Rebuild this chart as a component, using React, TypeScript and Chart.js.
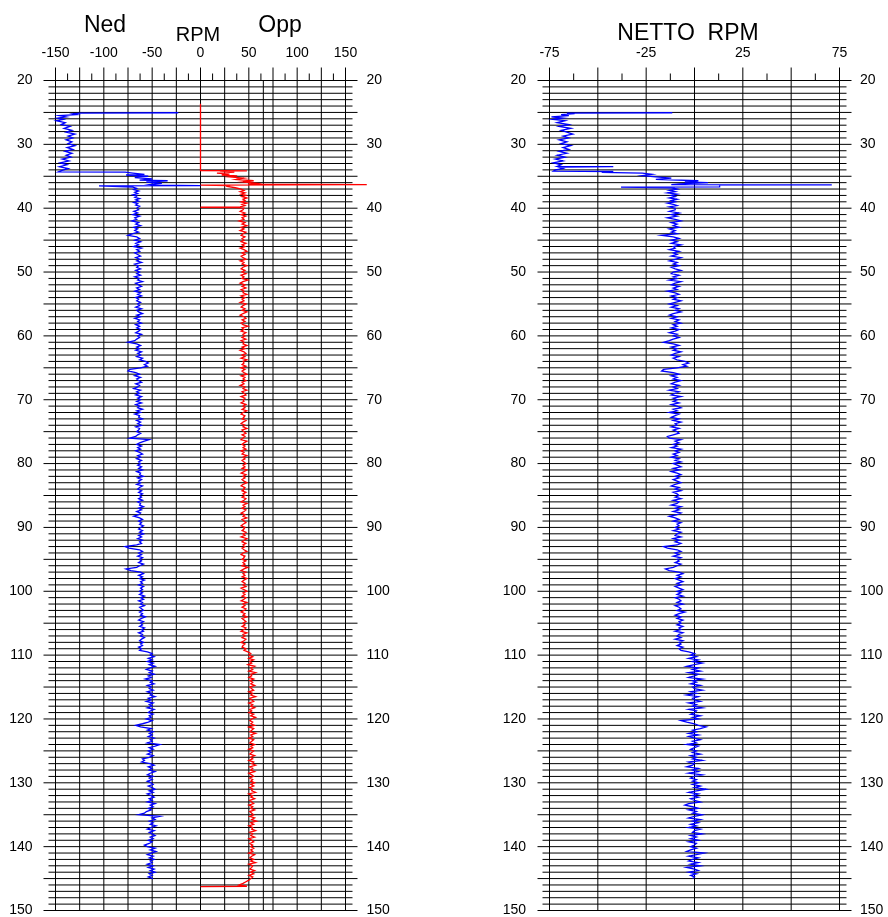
import React, { useEffect, useRef } from 'react';
import { Chart, registerables } from 'chart.js';

Chart.register(...registerables);

const FONT = "'Liberation Sans', Arial, Helvetica, sans-serif";

// ---------- axes ----------
const DEPTH_MIN = 20;
const DEPTH_MAX = 150;
const depthTickLabels = [20, 30, 40, 50, 60, 70, 80, 90, 100, 110, 120, 130, 140, 150];

const leftLabelX = [-150, -100, -50, 0, 50, 100, 150];
const leftTallX = [-150, -125, -100, -75, -50, -25, 0, 25, 50, 75, 100, 125, 150];
const leftExtraX = [65];
const leftMinorX = [-137.5, -112.5, -87.5, -62.5, -37.5, -12.5, 12.5, 37.5, 62.5, 87.5, 112.5, 137.5];

const rightLabelX = [-75, -25, 25, 75];
const rightTallX = [-75, -50, -25, 0, 25, 50, 75];
const rightMinorX = [-62.5, -37.5, -12.5, 12.5, 37.5, 62.5];

// ---------- data: top (irregular) section ----------
const nedTopDepth = [
  25.05, 25.1, 25.2, 25.35, 25.5, 25.7, 25.9, 26.1, 26.3, 26.6,
  26.9, 27.2, 27.5, 27.8, 28.1, 28.4, 28.7, 29.0, 29.3, 29.6,
  29.9, 30.2, 30.5, 30.8, 31.1, 31.4, 31.7, 32.0, 32.3, 32.6,
  32.9, 33.2, 33.5, 33.8, 34.1, 34.3, 34.35, 34.5, 34.7, 34.8,
  35.0, 35.2, 35.4, 35.6, 35.7, 35.9, 36.1, 36.3, 36.4, 36.45,
  36.5, 36.7, 36.9, 37.1, 37.3, 37.5, 37.7, 37.9, 38.1, 38.3,
  38.5, 38.7, 38.9, 39.1, 39.3, 39.5, 39.7, 40.0,
];
const nedTopRpm = [
  -23, -124, -132, -128, -146, -139, -148, -142, -149, -140,
  -144, -135, -141, -133, -139, -130, -137, -132, -139, -133,
  -137, -130, -138, -132, -140, -133, -139, -134, -143, -136,
  -145, -138, -146, -137, -144, -147, -78, -70, -58, -77,
  -54, -68, -50, -63, -34, -56, -40, -52, -45, 0,
  -105, -70, -66, -69, -64, -68, -65, -70, -66, -68,
  -63, -67, -64, -69, -65, -67, -63, -66,
];

const oppTopDepth = [
  23.65, 34.1, 34.15, 34.2, 34.35, 34.5, 34.65, 34.8, 34.95, 35.1,
  35.3, 35.5, 35.7, 35.9, 36.1, 36.25, 36.3, 36.38, 36.45, 36.6,
  36.8, 37.0, 37.2, 37.4, 37.6, 37.8, 38.0, 38.2, 38.4, 38.6,
  38.8, 39.0, 39.2, 39.4, 39.6, 39.8, 39.85, 39.9, 40.0,
];
const oppTopRpm = [
  0, 0, 48, 20, 35, 17, 30, 22, 38, 30,
  45, 37, 55, 44, 58, 50, 172, 0, 30, 28,
  36, 42, 45, 41, 46, 42, 47, 43, 48, 44,
  46, 42, 48, 43, 46, 41, 0, 40, 45,
];

const nettoTopDepth = [
  25.05, 25.1, 25.2, 25.35, 25.5, 25.7, 25.9, 26.1, 26.3, 26.6,
  26.9, 27.2, 27.5, 27.8, 28.1, 28.4, 28.7, 29.0, 29.3, 29.6,
  29.9, 30.2, 30.5, 30.8, 31.1, 31.4, 31.7, 32.0, 32.3, 32.6,
  32.9, 33.2, 33.45, 33.5, 33.6, 33.8, 34.0, 34.2, 34.25, 34.4,
  34.5, 34.7, 34.9, 35.1, 35.3, 35.5, 35.7, 35.9, 36.0, 36.2,
  36.3, 36.34, 36.4, 36.65, 36.7, 36.8, 37.0, 37.2, 37.4, 37.6,
  37.8, 38.0, 38.2, 38.4, 38.6, 38.8, 39.0, 39.2, 39.4, 39.6,
  39.8, 40.0,
];
const nettoTopRpm = [
  -11.5, -66, -62, -69, -65, -74, -68, -73, -67, -71,
  -65, -70, -64, -69, -66, -63, -68, -65, -70, -66,
  -69, -64, -68, -65, -70, -66, -71, -67, -72, -68,
  -73, -69, -71, -42, -70, -68, -72, -73, -42, -48,
  -27, -22, -27, -20, -12, -20, 2, -5, 7, -8,
  -12, 71, 13, 13, -38, -12, -9, -13, -10, -14,
  -9, -12, -10, -13, -9, -12, -10, -14, -11, -9,
  -13, -10,
];

// ---------- data: steady section, sampled every quarter metre ----------
const steadyDepth = [
  40.25, 40.5, 40.75, 41, 41.25, 41.5, 41.75, 42, 42.25, 42.5, 42.75, 43, 43.25, 43.5, 43.75, 44, 44.25, 44.5, 44.75, 45,
  45.25, 45.5, 45.75, 46, 46.25, 46.5, 46.75, 47, 47.25, 47.5, 47.75, 48, 48.25, 48.5, 48.75, 49, 49.25, 49.5, 49.75, 50,
  50.25, 50.5, 50.75, 51, 51.25, 51.5, 51.75, 52, 52.25, 52.5, 52.75, 53, 53.25, 53.5, 53.75, 54, 54.25, 54.5, 54.75, 55,
  55.25, 55.5, 55.75, 56, 56.25, 56.5, 56.75, 57, 57.25, 57.5, 57.75, 58, 58.25, 58.5, 58.75, 59, 59.25, 59.5, 59.75, 60,
  60.25, 60.5, 60.75, 61, 61.25, 61.5, 61.75, 62, 62.25, 62.5, 62.75, 63, 63.25, 63.5, 63.75, 64, 64.25, 64.5, 64.75, 65,
  65.25, 65.5, 65.75, 66, 66.25, 66.5, 66.75, 67, 67.25, 67.5, 67.75, 68, 68.25, 68.5, 68.75, 69, 69.25, 69.5, 69.75, 70,
  70.25, 70.5, 70.75, 71, 71.25, 71.5, 71.75, 72, 72.25, 72.5, 72.75, 73, 73.25, 73.5, 73.75, 74, 74.25, 74.5, 74.75, 75,
  75.25, 75.5, 75.75, 76, 76.25, 76.5, 76.75, 77, 77.25, 77.5, 77.75, 78, 78.25, 78.5, 78.75, 79, 79.25, 79.5, 79.75, 80,
  80.25, 80.5, 80.75, 81, 81.25, 81.5, 81.75, 82, 82.25, 82.5, 82.75, 83, 83.25, 83.5, 83.75, 84, 84.25, 84.5, 84.75, 85,
  85.25, 85.5, 85.75, 86, 86.25, 86.5, 86.75, 87, 87.25, 87.5, 87.75, 88, 88.25, 88.5, 88.75, 89, 89.25, 89.5, 89.75, 90,
  90.25, 90.5, 90.75, 91, 91.25, 91.5, 91.75, 92, 92.25, 92.5, 92.75, 93, 93.25, 93.5, 93.75, 94, 94.25, 94.5, 94.75, 95,
  95.25, 95.5, 95.75, 96, 96.25, 96.5, 96.75, 97, 97.25, 97.5, 97.75, 98, 98.25, 98.5, 98.75, 99, 99.25, 99.5, 99.75, 100,
  100.25, 100.5, 100.75, 101, 101.25, 101.5, 101.75, 102, 102.25, 102.5, 102.75, 103, 103.25, 103.5, 103.75, 104, 104.25, 104.5, 104.75, 105,
  105.25, 105.5, 105.75, 106, 106.25, 106.5, 106.75, 107, 107.25, 107.5, 107.75, 108, 108.25, 108.5, 108.75, 109, 109.25, 109.5, 109.75, 110,
  110.25, 110.5, 110.75, 111, 111.25, 111.5, 111.75, 112, 112.25, 112.5, 112.75, 113, 113.25, 113.5, 113.75, 114, 114.25, 114.5, 114.75, 115,
  115.25, 115.5, 115.75, 116, 116.25, 116.5, 116.75, 117, 117.25, 117.5, 117.75, 118, 118.25, 118.5, 118.75, 119, 119.25, 119.5, 119.75, 120,
  120.25, 120.5, 120.75, 121, 121.25, 121.5, 121.75, 122, 122.25, 122.5, 122.75, 123, 123.25, 123.5, 123.75, 124, 124.25, 124.5, 124.75, 125,
  125.25, 125.5, 125.75, 126, 126.25, 126.5, 126.75, 127, 127.25, 127.5, 127.75, 128, 128.25, 128.5, 128.75, 129, 129.25, 129.5, 129.75, 130,
  130.25, 130.5, 130.75, 131, 131.25, 131.5, 131.75, 132, 132.25, 132.5, 132.75, 133, 133.25, 133.5, 133.75, 134, 134.25, 134.5, 134.75, 135,
  135.25, 135.5, 135.75, 136, 136.25, 136.5, 136.75, 137, 137.25, 137.5, 137.75, 138, 138.25, 138.5, 138.75, 139, 139.25, 139.5, 139.75, 140,
  140.25, 140.5, 140.75, 141, 141.25, 141.5, 141.75, 142, 142.25, 142.5, 142.75, 143, 143.25, 143.5, 143.75, 144, 144.25, 144.5, 144.75, 145,
  145.25, 145.5, 145.75, 146,
];

const nedSteadyRpm = [
  -64, -69, -65, -70, -63, -68, -66, -71, -64, -67, -62, -69, -65, -68, -64, -70, -75, -66, -63, -68,
  -62, -67, -64, -69, -61, -66, -63, -68, -65, -62, -67, -63, -66, -61, -68, -64, -66, -62, -67, -63,
  -66, -62, -68, -63, -65, -60, -67, -64, -61, -66, -63, -68, -62, -65, -61, -67, -64, -66, -62, -65,
  -63, -67, -61, -66, -64, -60, -66, -62, -68, -63, -65, -61, -67, -63, -66, -62, -64, -67, -61, -65,
  -63, -66, -68, -75, -66, -62, -66, -63, -67, -61, -65, -62, -66, -60, -63, -57, -54, -58, -55, -62,
  -73, -75, -67, -63, -68, -62, -66, -64, -61, -67, -63, -65, -69, -62, -66, -63, -67, -61, -65, -62,
  -66, -61, -67, -63, -65, -60, -66, -62, -68, -63, -64, -60, -66, -62, -65, -61, -67, -63, -64, -66,
  -62, -65, -67, -73, -53, -58, -63, -66, -61, -65, -62, -67, -63, -60, -65, -62, -66, -61, -64, -62,
  -65, -61, -64, -60, -66, -62, -63, -59, -65, -61, -64, -62, -66, -60, -63, -65, -61, -64, -60, -63,
  -61, -64, -60, -65, -62, -63, -59, -64, -61, -66, -62, -64, -69, -63, -60, -64, -61, -63, -59, -62,
  -64, -60, -63, -59, -64, -61, -65, -60, -63, -61, -66, -78, -74, -63, -60, -64, -61, -65, -60, -63,
  -61, -64, -59, -63, -66, -77, -72, -62, -59, -64, -60, -63, -58, -62, -60, -64, -59, -62, -60, -63,
  -60, -63, -58, -62, -59, -64, -60, -62, -58, -63, -61, -59, -63, -60, -62, -57, -61, -64, -59, -62,
  -60, -63, -58, -61, -59, -64, -60, -62, -58, -61, -63, -59, -62, -60, -64, -61, -63, -55, -50, -52,
  -48, -54, -50, -55, -49, -53, -47, -52, -56, -50, -53, -48, -54, -51, -57, -50, -52, -48, -55, -51,
  -53, -49, -55, -50, -52, -47, -54, -51, -56, -49, -53, -50, -55, -48, -52, -54, -49, -53, -51, -56,
  -50, -54, -60, -67, -62, -51, -55, -49, -53, -50, -54, -48, -52, -50, -55, -42, -47, -53, -49, -54,
  -51, -55, -49, -53, -60, -58, -61, -52, -48, -54, -50, -53, -47, -52, -55, -49, -53, -50, -55, -51,
  -49, -54, -50, -47, -53, -49, -55, -51, -48, -53, -50, -55, -47, -52, -49, -54, -51, -56, -58, -64,
  -42, -50, -47, -53, -49, -52, -46, -51, -55, -48, -53, -50, -47, -52, -49, -54, -50, -53, -58, -55,
  -47, -52, -46, -51, -55, -49, -53, -48, -52, -50, -55, -49, -54, -48, -52, -47, -53, -50, -54, -49,
];

const oppSteadyRpm = [
  44, 41, 46, 42, 47, 43, 45, 40, 46, 43, 48, 42, 45, 41, 47, 44, 42, 46, 43, 45,
  42, 47, 43, 46, 41, 45, 48, 43, 46, 42, 44, 47, 41, 45, 43, 48, 44, 42, 46, 43,
  47, 42, 45, 43, 49, 44, 41, 46, 43, 47, 42, 45, 44, 48, 42, 46, 43, 45, 41, 47,
  44, 42, 46, 43, 48, 44, 41, 45, 47, 43, 46, 42, 44, 49, 43, 45, 42, 47, 44, 46,
  43, 47, 42, 45, 44, 48, 43, 46, 41, 45, 47, 43, 46, 42, 48, 44, 45, 43, 47, 42,
  46, 43, 45, 48, 42, 46, 44, 47, 43, 45, 41, 46, 44, 48, 43, 45, 47, 42, 46, 44,
  45, 42, 47, 44, 46, 43, 48, 44, 42, 46, 45, 43, 47, 44, 42, 46, 44, 48, 43, 45,
  47, 43, 46, 44, 42, 48, 45, 43, 46, 44, 47, 42, 45, 43, 48, 44, 46, 43, 45, 47,
  44, 46, 43, 48, 45, 42, 47, 44, 46, 43, 45, 48, 44, 42, 46, 45, 43, 47, 44, 46,
  43, 47, 45, 42, 48, 44, 46, 43, 47, 45, 42, 46, 44, 48, 43, 45, 47, 44, 42, 46,
  45, 43, 47, 44, 46, 42, 48, 45, 43, 47, 44, 46, 43, 45, 48, 44, 42, 46, 45, 43,
  47, 44, 46, 43, 49, 45, 42, 47, 44, 46, 43, 48, 45, 43, 46, 44, 47, 42, 45, 48,
  44, 46, 43, 47, 45, 42, 48, 44, 46, 43, 47, 45, 42, 46, 44, 48, 43, 45, 47, 44,
  46, 43, 47, 45, 42, 48, 44, 46, 43, 47, 45, 42, 46, 44, 43, 47, 45, 49, 52, 50,
  54, 50, 55, 51, 53, 49, 56, 52, 54, 50, 57, 52, 53, 50, 55, 51, 54, 52, 56, 51,
  53, 55, 50, 54, 52, 57, 51, 53, 55, 50, 54, 52, 56, 51, 53, 50, 55, 52, 57, 53,
  51, 54, 52, 56, 50, 55, 53, 51, 57, 52, 54, 50, 55, 53, 51, 56, 52, 54, 50, 55,
  53, 51, 56, 52, 54, 50, 55, 53, 57, 51, 54, 52, 56, 50, 53, 55, 51, 54, 52, 56,
  52, 55, 51, 54, 53, 57, 50, 54, 52, 56, 51, 53, 55, 50, 54, 52, 56, 51, 53, 55,
  51, 56, 53, 58, 52, 55, 50, 54, 53, 57, 51, 54, 52, 56, 50, 53, 55, 51, 54, 52,
  55, 52, 54, 50, 56, 53, 51, 55, 52, 57, 50, 54, 53, 51, 56, 52, 55, 50, 54, 52,
  50, 47, 44, 40,
];
const oppTailDepth = [146.2, 146.25];
const oppTailRpm = [48, 0];

const nettoSteadyRpm = [
  -10, -13, -8, -12, -9, -14, -10, -7, -12, -9, -11, -8, -13, -10, -12, -9, -17, -11, -8, -12,
  -9, -12, -7, -11, -10, -13, -8, -11, -9, -12, -7, -10, -13, -9, -11, -8, -12, -10, -7, -11,
  -12, -8, -11, -9, -13, -7, -10, -12, -8, -11, -9, -14, -10, -8, -12, -9, -11, -7, -10, -13,
  -9, -12, -8, -10, -7, -11, -13, -9, -12, -8, -10, -7, -11, -9, -12, -8, -10, -13, -9, -11,
  -8, -11, -13, -16, -11, -8, -12, -9, -11, -7, -10, -12, -8, -11, -9, -5, -3, -6, -4, -9,
  -16, -17, -11, -8, -12, -9, -11, -7, -10, -12, -8, -11, -9, -13, -8, -10, -12, -7, -11, -9,
  -11, -8, -12, -9, -7, -11, -9, -13, -8, -10, -12, -8, -11, -7, -10, -9, -12, -8, -11, -9,
  -8, -11, -14, -13, -7, -10, -8, -11, -9, -12, -7, -10, -8, -11, -9, -12, -8, -10, -7, -11,
  -9, -7, -11, -8, -12, -9, -7, -10, -8, -11, -9, -7, -10, -12, -8, -10, -7, -11, -9, -8,
  -10, -7, -11, -8, -9, -12, -7, -10, -8, -11, -7, -9, -13, -10, -8, -11, -7, -9, -8, -10,
  -8, -11, -7, -9, -10, -7, -11, -8, -10, -7, -9, -16, -14, -9, -7, -10, -8, -11, -7, -9,
  -8, -10, -7, -9, -11, -15, -13, -8, -6, -9, -7, -10, -8, -6, -9, -7, -10, -8, -6, -9,
  -7, -9, -6, -10, -8, -7, -9, -6, -10, -8, -7, -9, -5, -8, -10, -7, -9, -6, -8, -7,
  -9, -6, -8, -7, -10, -6, -8, -9, -7, -10, -6, -8, -7, -9, -6, -8, -7, -3, 0, -2,
  1, -3, 2, -1, 4, 0, -4, 2, -1, 3, -3, 2, 0, -3, 4, -1, 1, -2, 3, -1,
  0, 4, -2, 1, -4, 2, -1, 0, 3, -3, 1, -1, 4, -3, 1, 0, -2, 3, -1, 2,
  -7, -4, 0, 2, 6, 3, -1, 1, -3, 2, -3, 0, 3, -1, 1, -4, 2, 0, -2, 1,
  -1, 3, -2, 1, -1, 4, -3, 0, -1, -4, 2, -1, 2, -3, 4, 0, -2, 1, -1, 2,
  -1, 3, 0, 6, 1, -3, 2, -1, 2, -2, 0, 3, -3, -5, -1, 2, -3, 1, -1, 4,
  0, -3, 3, -1, 2, -2, 1, -3, 3, 0, -1, 4, -2, 1, -2, 2, -3, 1, 0, -2,
  1, -2, -4, 5, 1, -3, 2, -1, -3, 2, -2, 3, -4, 0, 2, -3, 1, -2, 0, -1,
];

// ---------- helpers ----------
const toPoints = (depths: number[], vals: number[]) =>
  vals.map((v, i) => ({ x: v, y: depths[i] }));

const nedData = [...toPoints(nedTopDepth, nedTopRpm), ...toPoints(steadyDepth, nedSteadyRpm)];
const oppData = [
  ...toPoints(oppTopDepth, oppTopRpm),
  ...toPoints(steadyDepth, oppSteadyRpm),
  ...toPoints(oppTailDepth, oppTailRpm),
];
const nettoData = [...toPoints(nettoTopDepth, nettoTopRpm), ...toPoints(steadyDepth, nettoSteadyRpm)];

function makeGridPlugin(tallX: number[], extraX: number[], minorX: number[]) {
  return {
    id: 'logGrid',
    beforeDatasetsDraw(chart: any) {
      const { ctx, chartArea: a, scales } = chart;
      const xs = scales.x;
      const ys = scales.y;
      ctx.save();
      ctx.strokeStyle = '#000';
      ctx.lineWidth = 1;
      ctx.beginPath();
      for (let d = DEPTH_MIN; d <= DEPTH_MAX; d += 1) {
        const y = ys.getPixelForValue(d);
        const ext = d % 5 === 0 ? 12 : 7;
        ctx.moveTo(a.left - ext, y);
        ctx.lineTo(a.right + ext, y);
      }
      for (const v of tallX) {
        const x = xs.getPixelForValue(v);
        ctx.moveTo(x, a.top - 13);
        ctx.lineTo(x, a.bottom);
      }
      for (const v of extraX) {
        const x = xs.getPixelForValue(v);
        ctx.moveTo(x, a.top);
        ctx.lineTo(x, a.bottom);
      }
      for (const v of minorX) {
        const x = xs.getPixelForValue(v);
        ctx.moveTo(x, a.top - 7);
        ctx.lineTo(x, a.top);
      }
      ctx.stroke();
      ctx.restore();
    },
  };
}

const tickFont = { family: FONT, size: 14 };

function makeScales(xmin: number, xmax: number, labelX: number[], leftW: number, rightW: number, padL: number, padR: number) {
  const yBase = (position: string, width: number, pad: number) => ({
    type: 'linear',
    position,
    reverse: true,
    min: DEPTH_MIN,
    max: DEPTH_MAX,
    grid: { display: false, drawTicks: false },
    border: { display: false },
    afterBuildTicks: (s: any) => {
      s.ticks = depthTickLabels.map((v) => ({ value: v }));
    },
    ticks: {
      autoSkip: false,
      padding: pad,
      color: '#000',
      font: tickFont,
      callback: (v: any) => String(v),
    },
    afterFit: (s: any) => {
      s.width = width;
      s.paddingTop = 0;
      s.paddingBottom = 0;
    },
  });
  return {
    x: {
      type: 'linear',
      position: 'top',
      min: xmin,
      max: xmax,
      grid: { display: false, drawTicks: false },
      border: { display: false },
      afterBuildTicks: (s: any) => {
        s.ticks = labelX.map((v) => ({ value: v }));
      },
      ticks: {
        autoSkip: false,
        maxRotation: 0,
        minRotation: 0,
        padding: 19,
        color: '#000',
        font: tickFont,
        callback: (v: any) => String(v),
      },
      afterFit: (s: any) => {
        s.height = 80.5;
        s.paddingLeft = 0;
        s.paddingRight = 0;
      },
    },
    y: yBase('left', leftW, padL),
    y2: yBase('right', rightW, padR),
  };
}

function lineDataset(data: any[], color: string) {
  return {
    data,
    borderColor: color,
    backgroundColor: color,
    borderWidth: 1.3,
    pointRadius: 0,
    showLine: true,
    fill: false,
    tension: 0,
    clip: false,
  };
}

function baseOptions(scales: any) {
  return {
    responsive: false,
    animation: false,
    devicePixelRatio: 1,
    layout: { padding: { left: 0, right: 0, top: 0, bottom: 6.5 } },
    plugins: { legend: { display: false }, tooltip: { enabled: false } },
    events: [],
    scales,
  };
}

const titleStyle = (cx: number, top: number, size: number): React.CSSProperties => ({
  position: 'absolute',
  left: cx - 100,
  width: 200,
  top,
  textAlign: 'center',
  fontFamily: FONT,
  fontSize: size,
  lineHeight: `${size}px`,
  color: '#000',
  whiteSpace: 'pre',
});

export default function App() {
  const leftRef = useRef<HTMLCanvasElement>(null);
  const rightRef = useRef<HTMLCanvasElement>(null);

  useEffect(() => {
    const left = new Chart(leftRef.current as HTMLCanvasElement, {
      type: 'scatter',
      data: {
        datasets: [lineDataset(nedData, '#0000ff'), lineDataset(oppData, '#ff0000')],
      },
      options: baseOptions(makeScales(-150, 150, leftLabelX, 55.5, 98.5, 23, 21)) as any,
      plugins: [makeGridPlugin(leftTallX, leftExtraX, leftMinorX)],
    } as any);
    const right = new Chart(rightRef.current as HTMLCanvasElement, {
      type: 'scatter',
      data: { datasets: [lineDataset(nettoData, '#0000ff')] },
      options: baseOptions(makeScales(-75, 75, rightLabelX, 105.5, 48.5, 23.5, 20.5)) as any,
      plugins: [makeGridPlugin(rightTallX, [], rightMinorX)],
    } as any);
    return () => {
      left.destroy();
      right.destroy();
    };
  }, []);

  return (
    <div style={{ position: 'absolute', left: 0, top: 0, width: 888, height: 917, background: '#fff', overflow: 'hidden' }}>
      <canvas ref={leftRef} width={444} height={917} style={{ position: 'absolute', left: 0, top: 0 }} />
      <canvas ref={rightRef} width={444} height={917} style={{ position: 'absolute', left: 444, top: 0 }} />
      <div style={titleStyle(105, 12.8, 23)}>Ned</div>
      <div style={titleStyle(198, 23.8, 20)}>RPM</div>
      <div style={titleStyle(280, 12.8, 23)}>Opp</div>
      <div style={titleStyle(688, 21.2, 23)}>{'NETTO  RPM'}</div>
    </div>
  );
}
